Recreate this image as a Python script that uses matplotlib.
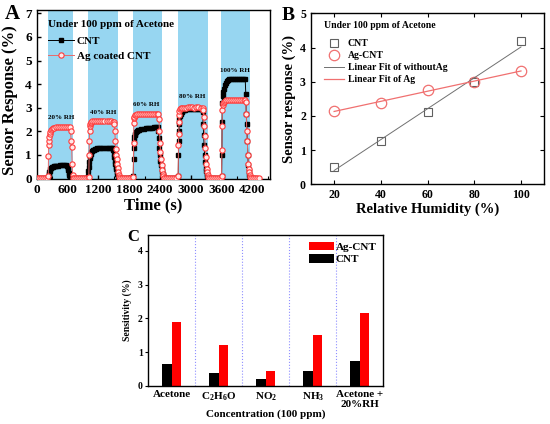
import numpy as np
import matplotlib
matplotlib.use("Agg")
import matplotlib.pyplot as plt

plt.rcParams['font.family'] = ['Liberation Serif', 'DejaVu Serif']
plt.rcParams['font.weight'] = 'bold'
plt.rcParams['axes.labelweight'] = 'bold'
plt.rcParams['mathtext.fontset'] = 'custom'
plt.rcParams['mathtext.rm'] = 'Liberation Serif:bold'
plt.rcParams['mathtext.bf'] = 'Liberation Serif:bold'
plt.rcParams['axes.linewidth'] = 1.0

# ---- panel A: response vs time ----
cnt_t = [0, 40, 80, 120, 160, 200, 230,
         235, 240, 245, 250, 260, 280, 300, 320, 340, 360, 380, 420, 460, 500, 540, 580,
         590, 600, 610, 620, 630, 640, 650, 660, 700, 740, 780, 820, 860, 900, 940, 980,
         990, 1000, 1010, 1020, 1030, 1040, 1050, 1060, 1080, 1100, 1120, 1140, 1160, 1180, 1220, 1260, 1300, 1340, 1380, 1420, 1460, 1480,
         1490, 1500, 1510, 1520, 1530, 1540, 1550, 1560, 1570, 1580, 1590, 1600, 1610, 1620, 1660, 1700, 1740, 1780, 1820, 1860,
         1880, 1885, 1890, 1895, 1900, 1910, 1920, 1940, 1960, 1980, 2000, 2040, 2080, 2120, 2160, 2200, 2240, 2280, 2320, 2360,
         2370, 2380, 2390, 2400, 2410, 2420, 2430, 2440, 2450, 2460, 2470, 2480, 2520, 2560, 2600, 2640, 2680, 2720,
         2755, 2760, 2765, 2770, 2775, 2780, 2790, 2800, 2820, 2840, 2860, 2880, 2920, 2960, 3000, 3040, 3080, 3120, 3160, 3200, 3220,
         3230, 3240, 3250, 3260, 3270, 3280, 3290, 3300, 3310, 3320, 3330, 3340, 3380, 3420, 3460, 3500, 3540, 3580,
         3600, 3605, 3610, 3615, 3620, 3630, 3640, 3660, 3680, 3700, 3720, 3740, 3780, 3820, 3860, 3900, 3940, 3980, 4020, 4060,
         4070, 4080, 4090, 4100, 4110, 4120, 4130, 4140, 4150, 4160, 4170, 4210, 4250]
cnt_v = [0, 0, 0, 0, 0, 0, 0,
         0.08, 0.2, 0.28, 0.33, 0.38, 0.43, 0.46, 0.49, 0.51, 0.52, 0.53, 0.54, 0.55, 0.55, 0.55, 0.55,
         0.52, 0.45, 0.35, 0.22, 0.12, 0.06, 0.02, 0, 0, 0, 0, 0, 0, 0, 0, 0,
         0.1, 0.3, 0.5, 0.7, 0.85, 0.95, 1.05, 1.1, 1.15, 1.2, 1.22, 1.25, 1.26, 1.27, 1.28, 1.28, 1.29, 1.29, 1.29, 1.29, 1.28, 1.27,
         1.2, 1.05, 0.9, 0.75, 0.6, 0.48, 0.38, 0.28, 0.2, 0.14, 0.09, 0.05, 0.02, 0, 0, 0, 0, 0, 0, 0,
         0.1, 0.8, 1.3, 1.6, 1.75, 1.85, 1.9, 1.95, 2.0, 2.03, 2.05, 2.08, 2.1, 2.12, 2.13, 2.14, 2.15, 2.16, 2.16, 2.16,
         2.0, 1.7, 1.3, 1.0, 0.75, 0.55, 0.4, 0.28, 0.18, 0.1, 0.05, 0, 0, 0, 0, 0, 0, 0,
         0.1, 1.0, 1.6, 2.0, 2.3, 2.5, 2.65, 2.75, 2.83, 2.88, 2.9, 2.92, 2.94, 2.95, 2.95, 2.95, 2.96, 2.96, 2.95, 2.95, 2.95,
         2.8, 2.3, 1.85, 1.4, 1.0, 0.7, 0.45, 0.3, 0.18, 0.1, 0.04, 0, 0, 0, 0, 0, 0, 0,
         0.1, 1.0, 2.4, 3.2, 3.5, 3.65, 3.8, 3.95, 4.05, 4.12, 4.17, 4.2, 4.21, 4.22, 4.22, 4.23, 4.23, 4.23, 4.23, 4.22,
         3.6, 2.75, 2.3, 1.6, 1.0, 0.55, 0.3, 0.15, 0.07, 0.02, 0, 0, 0]

ag_t = [0, 40, 80, 120, 160, 200,
        225, 230, 235, 240, 245, 250, 260, 270, 290, 310, 330, 370, 410, 450, 490, 530, 570, 610, 650,
        660, 670, 680, 690, 700, 710, 720, 760, 800, 840, 880, 920, 960, 1000,
        1015, 1020, 1025, 1030, 1035, 1040, 1050, 1060, 1080, 1120, 1160, 1200, 1240, 1280, 1320, 1360, 1400, 1440, 1480, 1500,
        1510, 1520, 1530, 1540, 1550, 1560, 1570, 1580, 1590, 1600, 1610, 1620, 1660, 1700, 1740, 1780, 1820, 1860,
        1880, 1885, 1890, 1895, 1900, 1910, 1930, 1950, 1990, 2030, 2070, 2110, 2150, 2190, 2230, 2270, 2310, 2350, 2370,
        2380, 2390, 2400, 2410, 2420, 2430, 2440, 2450, 2460, 2470, 2480, 2520, 2560, 2600, 2640, 2680, 2720,
        2755, 2760, 2765, 2770, 2775, 2780, 2790, 2810, 2830, 2870, 2910, 2950, 2990, 3030, 3070, 3110, 3150, 3190, 3230,
        3240, 3250, 3260, 3270, 3280, 3290, 3300, 3310, 3320, 3330, 3340, 3350, 3390, 3430, 3470, 3510, 3550, 3590,
        3600, 3605, 3610, 3615, 3620, 3630, 3640, 3660, 3680, 3720, 3760, 3800, 3840, 3880, 3920, 3960, 4000, 4040, 4060,
        4070, 4080, 4090, 4100, 4110, 4120, 4130, 4140, 4150, 4160, 4170, 4210, 4250, 4290, 4330]
ag_v = [0, 0, 0, 0, 0, 0,
        0.1, 0.95, 1.4, 1.6, 1.75, 1.88, 1.98, 2.05, 2.1, 2.13, 2.15, 2.16, 2.16, 2.17, 2.16, 2.17, 2.17, 2.16, 2.16,
        2.0, 1.6, 1.35, 0.6, 0.15, 0.03, 0, 0, 0, 0, 0, 0, 0, 0,
        0.05, 1.0, 1.6, 2.0, 2.2, 2.3, 2.36, 2.4, 2.42, 2.42, 2.43, 2.42, 2.42, 2.43, 2.42, 2.42, 2.42, 2.42, 2.41, 2.4,
        2.3, 2.0, 1.6, 1.25, 1.0, 0.8, 0.6, 0.42, 0.27, 0.15, 0.06, 0, 0, 0, 0, 0, 0, 0,
        0.05, 1.5, 2.35, 2.55, 2.62, 2.67, 2.7, 2.72, 2.72, 2.73, 2.73, 2.74, 2.74, 2.74, 2.74, 2.74, 2.74, 2.74, 2.72,
        2.5, 2.0, 1.5, 1.1, 0.8, 0.55, 0.35, 0.2, 0.1, 0.03, 0, 0, 0, 0, 0, 0, 0,
        0.1, 1.4, 1.9, 2.4, 2.7, 2.85, 2.93, 2.97, 2.99, 3.0, 3.0, 3.01, 3.01, 3.01, 3.0, 3.01, 3.01, 3.0, 2.99,
        2.9, 2.6, 2.2, 1.8, 1.3, 0.9, 0.6, 0.4, 0.25, 0.12, 0.05, 0, 0, 0, 0, 0, 0, 0,
        0.1, 1.2, 2.2, 2.9, 3.1, 3.2, 3.25, 3.3, 3.32, 3.33, 3.33, 3.33, 3.34, 3.33, 3.33, 3.34, 3.33, 3.33, 3.32,
        3.25, 2.75, 2.0, 1.6, 1.0, 0.6, 0.4, 0.25, 0.12, 0.05, 0, 0, 0, 0, 0]

gas_on = [212, 990, 1873, 2760, 3595]
gas_off = [715, 1575, 2435, 3335, 4152]
rh_labels = ["20% RH", "40% RH", "60% RH", "80% RH", "100% RH"]
rh_label_t = [475, 1294, 2131, 3019, 3851]
rh_label_v = [2.57, 2.79, 3.13, 3.49, 4.58]

# ---- panel B: response vs humidity ----
rh = np.array([20, 40, 60, 80, 100])
resp_cnt = np.array([0.52, 1.27, 2.10, 2.98, 4.18])
resp_ag = np.array([2.15, 2.38, 2.76, 3.00, 3.32])

# ---- panel C: selectivity ----
gases = ["Acetone", r"C$_2$H$_6$O", r"NO$_2$", r"NH$_3$", "Acetone +\n20%RH"]
sens_cnt = [0.65, 0.38, 0.21, 0.43, 0.73]
sens_ag = [1.90, 1.22, 0.43, 1.49, 2.16]

fig = plt.figure(figsize=(5.5, 4.24), dpi=100)

# panel A
ax = fig.add_axes([0.0667, 0.5767, 0.424, 0.400])
for a, b in zip(gas_on, gas_off):
    ax.axvspan(a, b, color='#97d6f1', lw=0, zorder=0)
ax.plot(cnt_t, cnt_v, '-s', color='black', lw=0.7, ms=3.0, mfc='black', mec='black',
        label='CNT', zorder=2)
ax.plot(ag_t, ag_v, '-o', color='#e86a6a', lw=0.7, ms=3.8, mfc='#ffe8e8', mec='#ff3a3a',
        mew=0.8, label='Ag coated CNT', zorder=3)
for s, x, y in zip(rh_labels, rh_label_t, rh_label_v):
    ax.text(x, y, s, fontsize=5, ha='center', va='center')
ax.set_xlim(0, 4540)
ax.set_ylim(-0.05, 7.15)
ax.set_xticks(np.arange(0, 4201, 600))
ax.set_xticks(np.arange(300, 4540, 600), minor=True)
ax.set_yticks(range(0, 8))
ax.tick_params(direction='in', labelsize=9.5, length=3, width=1)
ax.tick_params(which='minor', direction='in', length=2, width=0.8)
ax.set_xlabel("Time (s)", fontsize=12, labelpad=1)
ax.set_ylabel("Sensor Response (%)", fontsize=12, labelpad=2)
ax.yaxis.set_label_coords(-0.078, 0.47)
leg = ax.legend(title="Under 100 ppm of Acetone", loc='upper left', frameon=False,
                fontsize=8, title_fontproperties={'weight': 'bold', 'size': 8},
                alignment='left', handlelength=2.3, handletextpad=0.3,
                labelspacing=0.45, borderaxespad=0.3, bbox_to_anchor=(0.015, 0.985))
leg._legend_box.sep = 5
fig.text(0.009, 0.968, "A", fontsize=15, weight='bold', va='center')

# panel B
bx = fig.add_axes([0.565, 0.5653, 0.4247, 0.4033])
bx.plot(rh, resp_cnt, 's', ms=6, mfc='none', mec='#606060', mew=0.8, label='CNT')
bx.plot(rh, resp_ag, 'o', ms=7.5, mfc='none', mec='#f07070', mew=0.9, label='Ag-CNT')
k1 = np.polyfit(rh, resp_cnt, 1)
k2 = np.polyfit(rh, resp_ag, 1)
bx.plot(rh[[0, -1]], np.polyval(k1, rh[[0, -1]]), '-', color='#707070', lw=0.7,
        label='Linear Fit of withoutAg')
bx.plot(rh[[0, -1]], np.polyval(k2, rh[[0, -1]]), '-', color='#f07070', lw=0.9,
        label='Linear Fit of Ag')
bx.set_xlim(10, 110)
bx.set_ylim(0, 5)
bx.set_xticks([20, 40, 60, 80, 100])
bx.set_yticks(range(0, 6))
bx.tick_params(direction='in', labelsize=8.5, length=3, top=True, right=True)
bx.set_xlabel("Relative Humidity (%)", fontsize=10.5, labelpad=1)
bx.set_ylabel("Sensor response (%)", fontsize=10.5, labelpad=3)
bx.text(0.055, 0.93, "Under 100 ppm of Acetone", transform=bx.transAxes, fontsize=7,
        va='center')
bx.legend(loc='upper left', bbox_to_anchor=(0.02, 0.9), frameon=False, fontsize=7,
          handlelength=2.0, handletextpad=0.4, labelspacing=0.3, numpoints=1)
fig.text(0.512, 0.964, "B", fontsize=14, weight='bold', va='center')

# panel C
cx = fig.add_axes([0.2697, 0.0903, 0.4273, 0.3554])
pos = np.arange(len(gases))
cx.bar(pos - 0.1, sens_cnt, width=0.2, color='black', label='CNT')
cx.bar(pos + 0.1, sens_ag, width=0.2, color='#ff0000', label='Ag-CNT')
for p in pos[:-1] + 0.5:
    cx.axvline(p, color='#8f8fff', ls=':', lw=0.8)
cx.set_xlim(-0.5, 4.5)
cx.set_ylim(0, 4.47)
cx.set_xticks(pos)
cx.set_xticklabels(gases)
cx.set_yticks(range(0, 5))
cx.tick_params(axis='x', length=0, labelsize=8, pad=3)
cx.tick_params(axis='y', direction='out', length=2, labelsize=7, pad=2)
cx.set_xlabel("Concentration (100 ppm)", fontsize=8, labelpad=0)
cx.set_ylabel("Sensitivity (%)", fontsize=7, labelpad=4)
h, l = cx.get_legend_handles_labels()
cx.legend(h[::-1], l[::-1], loc='upper right', frameon=False, fontsize=8,
          handlelength=2.2, handleheight=0.8, handletextpad=0.2, labelspacing=0.2,
          borderaxespad=0.2)
fig.text(0.232, 0.44, "C", fontsize=12, weight='bold', va='center')

fig.savefig("out.png", dpi=100)
